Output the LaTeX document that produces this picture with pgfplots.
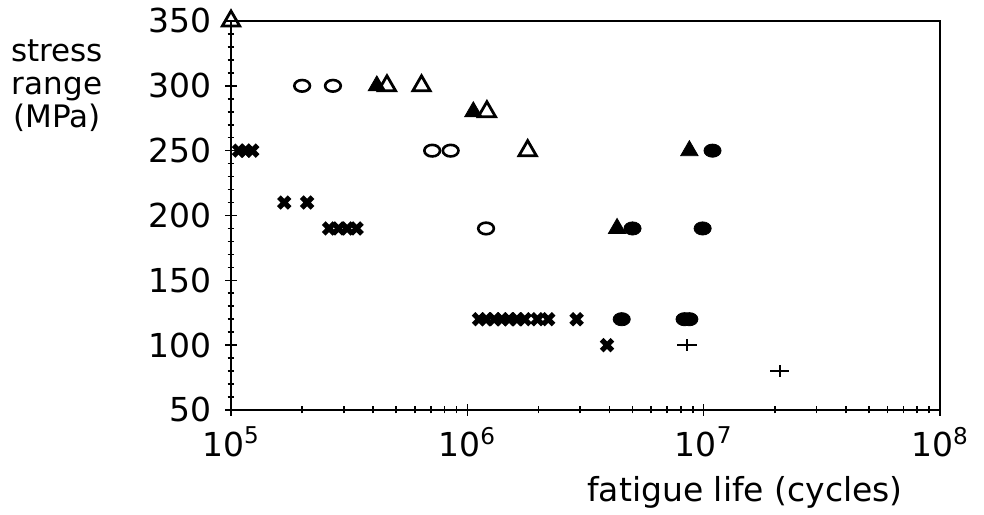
\documentclass[border=0pt]{standalone}
\usepackage{fontspec}
\setmainfont{DejaVu Sans}
\usepackage{pgfplots}
\pgfplotsset{compat=1.18}
\begin{document}
\begin{tikzpicture}
\begin{axis}[
  scale only axis, width=354.5pt, height=194.5pt,
  xmode=log, xmin=1e5, xmax=1e8, ymin=50, ymax=350,
  xtick={1e5,1e6,1e7,1e8},
  xticklabels={10\textsuperscript{5},10\textsuperscript{6},10\textsuperscript{7},10\textsuperscript{8}},
  ytick={50,100,...,350},
  minor y tick num=4,
  xtick pos=bottom, ytick pos=left,
  tick align=center,
  major tick length=6pt, minor tick length=3.5pt,
  axis line style={line width=1.2pt},
  tick style={black, line width=0.8pt},
  /pgf/number format/assume math mode=true,
  tick label style={font=\fontsize{16.5}{19}\selectfont},
  xticklabel style={yshift=-2pt},
  yticklabel style={xshift=-3pt},
  clip=false,
]
% open triangles
\addplot[only marks, black, mark=triangle, mark size=5pt, mark options={line width=1.4pt}]
  coordinates {(1e5,350)(4.57e5,300)(6.4e5,300)(1.21e6,280)(1.8e6,250)};
% filled triangles
\addplot[only marks, black, mark=triangle*, mark size=5pt]
  coordinates {(4.14e5,300)(1.06e6,280)(8.7e6,250)(4.3e6,190)};
% open circles
\addplot[only marks, black, mark=o, mark size=2.9pt, mark options={xscale=1.35, line width=1.3pt}]
  coordinates {(2.0e5,300)(2.7e5,300)(7.1e5,250)(8.5e5,250)(1.2e6,190)};
% filled circles
\addplot[only marks, black, mark=*, mark size=3.3pt, mark options={xscale=1.3}]
  coordinates {(1.09e7,250)(5.0e6,190)(9.9e6,190)(4.5e6,120)(8.3e6,120)(8.7e6,120)};
% crosses
\addplot[only marks, black, mark=x, mark size=3.8pt, mark options={line width=2.6pt}]
  coordinates {(1.08e5,250)(1.15e5,250)(1.23e5,250)(1.68e5,210)(2.1e5,210)
  (2.6e5,190)(2.85e5,190)(3.1e5,190)(3.4e5,190)
  (1.12e6,120)(1.2e6,120)(1.3e6,120)(1.4e6,120)(1.5e6,120)(1.62e6,120)(1.75e6,120)
  (1.98e6,120)(2.2e6,120)(2.9e6,120)(3.9e6,100)};
% plus
\addplot[only marks, black, mark=+, mark size=3pt, mark options={xscale=1.6, line width=1.1pt}]
  coordinates {(8.5e6,100)(2.1e7,80)};
\node[align=center, anchor=north, font=\fontsize{15.5}{16.5}\selectfont]
  at (rel axis cs:0,1) [xshift=-87pt, yshift=-6pt] {stress\\range\\(MPa)};
\node[font=\fontsize{16.5}{19}\selectfont] at (rel axis cs:0.725,0) [yshift=-41pt] {fatigue life (cycles)};
\path (rel axis cs:0,0) ++(-115.5pt,-47.5pt);
\path (rel axis cs:1,1) ++(22pt,10.5pt);
\end{axis}
\end{tikzpicture}
\end{document}
